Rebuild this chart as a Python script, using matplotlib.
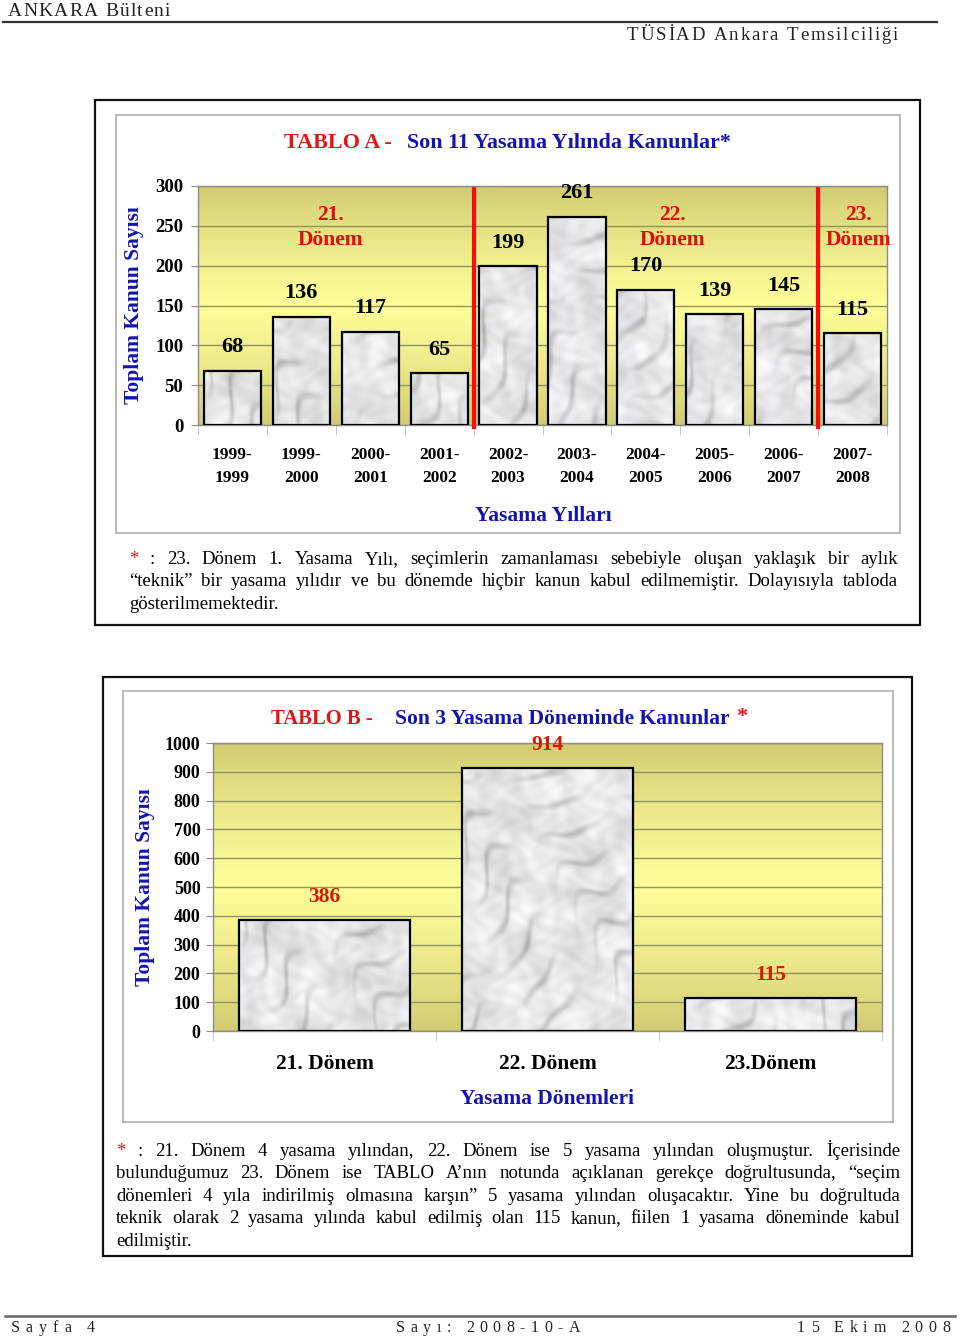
import numpy as np
import matplotlib
matplotlib.use("Agg")
import matplotlib.pyplot as plt
from matplotlib.transforms import Affine2D
from matplotlib.patches import Rectangle

# ---------------- data ----------------
years = ["1999-1999", "1999-2000", "2000-2001", "2001-2002", "2002-2003",
         "2003-2004", "2004-2005", "2005-2006", "2006-2007", "2007-2008"]
laws_per_year = [68, 136, 117, 65, 199, 261, 170, 139, 145, 115]
period_breaks = [4, 9]                      # first bar index of 22. and 23. Dönem
period_names = ["21.\nDönem", "22.\nDönem", "23.\nDönem"]

periods = ["21. Dönem", "22. Dönem", "23.Dönem"]
laws_per_period = [386, 914, 115]

yticks_a = [0, 50, 100, 150, 200, 250, 300]
yticks_b = [0, 100, 200, 300, 400, 500, 600, 700, 800, 900, 1000]

note_a = [
    "* : 23. Dönem 1. Yasama Yılı, seçimlerin zamanlaması sebebiyle oluşan yaklaşık bir aylık",
    "“teknik” bir yasama yılıdır ve bu dönemde hiçbir kanun kabul edilmemiştir. Dolayısıyla tabloda",
    "gösterilmemektedir.",
]
note_b = [
    "* : 21. Dönem 4 yasama yılından, 22. Dönem ise 5 yasama yılından oluşmuştur. İçerisinde",
    "bulunduğumuz 23. Dönem ise TABLO A’nın notunda açıklanan gerekçe doğrultusunda, “seçim",
    "dönemleri 4 yıla indirilmiş olmasına karşın” 5 yasama yılından oluşacaktır. Yine bu doğrultuda",
    "teknik olarak 2 yasama yılında kabul edilmiş olan 115 kanun, fiilen 1 yasama döneminde kabul",
    "edilmiştir.",
]

# ---------------- figure helpers ----------------
W, H = 960, 1337
fig = plt.figure(figsize=(W / 100, H / 100), dpi=100)
fig.patch.set_facecolor("white")
T = Affine2D().scale(1, -1).translate(0, H)      # pixel coords, origin top-left
renderer = fig.canvas.get_renderer()

SERIF = "Liberation Serif"
RED = "#e41414"
DRED = "#d81010"
BLUE = "#1414b0"


def text(x, y, s, **kw):
    fam = kw.pop("family", SERIF)
    return fig.text(x, y, s, transform=T, family=fam, **kw)


def width(s, **kw):
    t = text(0, 0, s, **kw)
    w = t.get_window_extent(renderer).width
    t.remove()
    return w


def fit(x0, x1, y, s, base=14, **kw):
    w = width(s, fontsize=base, **kw)
    size = base * (x1 - x0) / w
    return text(x0, y, s, fontsize=size, ha="left", va="center", **kw)


def spread(x0, x1, y, s, size, **kw):
    """Letter-spaced text; y is the visual middle of capitals."""
    chars = list(s)
    sp = size * 100 / 72 * 0.25
    ws = [width(c, fontsize=size, **kw) if c != " " else sp for c in chars]
    gap = (x1 - x0 - sum(ws)) / (len(chars) - 1)
    base = y + size * 100 / 72 * 0.33
    x = x0
    for c, wd in zip(chars, ws):
        if c != " ":
            text(x, base, c, fontsize=size, ha="left", va="baseline", **kw)
        x += wd + gap


def justify(x0, x1, y, line, last, size):
    words = line.split(" ")
    ws = [width(w, fontsize=size) for w in words]
    if last or len(words) == 1:
        gap = size * 100 / 72 * 0.25
    else:
        gap = (x1 - x0 - sum(ws)) / (len(words) - 1)
    base = y + size * 100 / 72 * 0.3
    x = x0
    for w, wd in zip(words, ws):
        text(x, base, w, fontsize=size, ha="left", va="baseline",
             color=RED if w == "*" else "black")
        x += wd + gap


def box(l, t, r, b, color, lw):
    fig.add_artist(Rectangle((l, t), r - l, b - t, transform=T, fill=False,
                             edgecolor=color, linewidth=lw))


def px_axes(l, t, r, b):
    return fig.add_axes([l / W, 1 - b / H, (r - l) / W, (b - t) / H])


def marble(wpx, hpx, k):
    """Deterministic soft grey marble texture (purely decorative)."""
    y, x = np.mgrid[0:hpx, 0:wpx].astype(float)
    x = x + k * 173.0
    y = y + k * 91.0
    a = (x + y) / 1.414   # across the veins
    b = (x - y) / 1.414   # along the veins
    cloud = (np.sin(a / 19.0 + 1.5 * np.sin(b / 23.0)) * np.sin(b / 13.0 + np.sin(a / 17.0))
             + 0.6 * np.sin(a / 7.1 + 2.0 * np.sin(b / 11.0)) * np.sin(b / 5.3 + np.sin(a / 9.0))
             + 0.5 * np.sin(x / 4.3 + 1.7 * np.sin(y / 6.1)) * np.sin(y / 3.7 + 1.3 * np.sin(x / 8.3)))
    s = np.sin(a / 5.5 + 2.5 * np.sin(b / 29.0) + 1.2 * np.sin(b / 11.0 + a / 37.0)
               + 0.8 * np.sin(x / 9.0 - y / 13.0))
    streak = np.clip(s, 0, 1) ** 4 * (0.5 + 0.5 * np.sin(b / 15.0 + a / 40.0))
    g = 0.92 - 0.045 * cloud - 0.15 * streak
    g = np.clip(g, 0.6, 1.0)
    return np.dstack([g * 0.985, g * 0.985, g])


def gradient():
    t = np.linspace(0, 1, 256)
    w = np.abs(t - 0.5) * 2
    edge = np.array([0.82, 0.80, 0.45])
    mid = np.array([0.99, 0.99, 0.60])
    col = mid[None, :] + (edge - mid)[None, :] * (w[:, None] ** 1.3)
    return col[:, None, :]


def style_chart(ax, n, ymax, yticks, px_w, px_h, bar_w, values, ylabsize, ypad):
    ax.imshow(gradient(), extent=(-0.5, n - 0.5, 0, ymax), aspect="auto", zorder=0)
    ax.set_axisbelow(True)
    ax.yaxis.grid(True, color="#929260", linewidth=1.0)
    bars = ax.bar(np.arange(n), values, width=bar_w, facecolor="none",
                  edgecolor="black", linewidth=1.6, zorder=3)
    for k, p in enumerate(bars.patches):
        x0 = p.get_x()
        x1 = x0 + p.get_width()
        h = p.get_height()
        wp = max(2, int(round(p.get_width() * px_w / n)))
        hp = max(2, int(round(h * px_h / ymax)))
        ax.imshow(marble(wp, hp, k + 3), extent=(x0, x1, 0, h), aspect="auto",
                  zorder=2, interpolation="bilinear")
    ax.set_xlim(-0.5, n - 0.5)
    ax.set_ylim(0, ymax)
    for s in ax.spines.values():
        s.set_color("#8c8c8c")
        s.set_linewidth(1.0)
    ax.set_yticks(yticks)
    ax.set_yticklabels([str(t) for t in yticks], fontsize=ylabsize,
                       fontweight="bold", family=SERIF)
    ax.tick_params(axis="y", length=5, color="#8c8c8c", pad=ypad)
    ax.set_xticks(np.arange(-0.5, n), minor=True)
    ax.tick_params(axis="x", which="minor", length=7, color="#c0c0c0")
    return bars


# ---------------- header / footer ----------------
spread(8, 170, 10, "ANKARA Bülteni", 14, color="#222222")
fig.add_artist(plt.Line2D([3, 937], [22, 22], transform=T, color="#333333", lw=1.6))
spread(627, 898, 34, "TÜSİAD Ankara Temsilciliği", 13.5, color="#222222")

fig.add_artist(plt.Line2D([5, 955], [1316, 1316], transform=T, color="#666666", lw=1.8))
spread(11, 95, 1327, "Sayfa 4", 11.5, color="#222222")
spread(396, 580, 1327, "Sayı: 2008-10-A", 11.5, color="#222222")
spread(797, 950, 1327, "15 Ekim 2008", 11.5, color="#222222")

# ---------------- TABLO A ----------------
box(95, 100, 920, 625, "#111111", 1.6)
box(116, 115, 900, 533, "#b4b4b4", 1.3)
fit(284, 392, 143, "TABLO A -", color=RED, fontweight="bold")
fit(407, 731, 143, "Son 11 Yasama Yılında Kanunlar*", color=BLUE, fontweight="bold")

axA = px_axes(198, 186, 887, 425)
barsA = style_chart(axA, len(years), 300, yticks_a, 689, 239, 0.83, laws_per_year, 13.5, 5.5)
axA.set_xticks(np.arange(len(years)))
axA.set_xticklabels([y.replace("-", "-\n") for y in years], fontsize=12.5,
                    fontweight="bold", family=SERIF, linespacing=1.55)
axA.tick_params(axis="x", which="major", length=0, pad=16)
for v, x in zip(laws_per_year, np.arange(len(years))):
    axA.annotate(str(v), (x, v), xytext=(0, 17), textcoords="offset points",
                 ha="center", va="center", fontsize=16, fontweight="bold",
                 family=SERIF, color="black", zorder=5)
for b in period_breaks:
    axA.axvline(b - 0.5, ymin=-0.01, ymax=0.988, color="#ff0a0a", lw=3.0,
                clip_on=False, zorder=4)
for name, xp in zip(period_names, [1.43, 6.39, 9.08]):
    axA.text(xp, 248, name, ha="center", va="center", fontsize=15.5,
             fontweight="bold", family=SERIF, color=DRED, linespacing=1.3, zorder=5)

text(134, 305, "Toplam Kanun Sayısı", rotation=90, ha="center", va="center",
     fontsize=15.5, fontweight="bold", color=BLUE)
text(543, 516, "Yasama Yılları", ha="center", va="center",
     fontsize=15.5, fontweight="bold", color=BLUE)

for i, line in enumerate(note_a):
    justify(129, 898, 558 + i * 22.5, line, i == len(note_a) - 1, 13.5)

# ---------------- TABLO B ----------------
box(103, 677, 912, 1256, "#111111", 1.6)
box(123, 691, 893, 1122, "#b4b4b4", 1.3)
fit(271, 373, 719, "TABLO B -", color=RED, fontweight="bold")
fit(395, 731, 719, "Son 3 Yasama Döneminde Kanunlar", color=BLUE, fontweight="bold")
text(736, 717, "*", fontsize=16, fontweight="bold", color=RED, ha="left", va="center")

axB = px_axes(213, 743, 882, 1031)
barsB = style_chart(axB, len(periods), 1000, yticks_b, 669, 288, 0.77, laws_per_period, 13, 4)
axB.set_xticks(np.arange(len(periods)))
axB.set_xticklabels(periods, fontsize=15.5, fontweight="bold", family=SERIF)
axB.tick_params(axis="x", which="major", length=0, pad=16.5)
for v, x in zip(laws_per_period, np.arange(len(periods))):
    axB.annotate(str(v), (x, v), xytext=(0, 16.5), textcoords="offset points",
                 ha="center", va="center", fontsize=15.5, fontweight="bold",
                 family=SERIF, color="#d41a00", zorder=5)

text(145, 887, "Toplam Kanun Sayısı", rotation=90, ha="center", va="center",
     fontsize=15.5, fontweight="bold", color=BLUE)
text(547, 1099, "Yasama Dönemleri", ha="center", va="center",
     fontsize=15.5, fontweight="bold", color=BLUE)

for i, line in enumerate(note_b):
    justify(116, 900, 1150 + i * 22.5, line, i == len(note_b) - 1, 13.5)

fig.savefig("out.png", dpi=100, facecolor="white")
